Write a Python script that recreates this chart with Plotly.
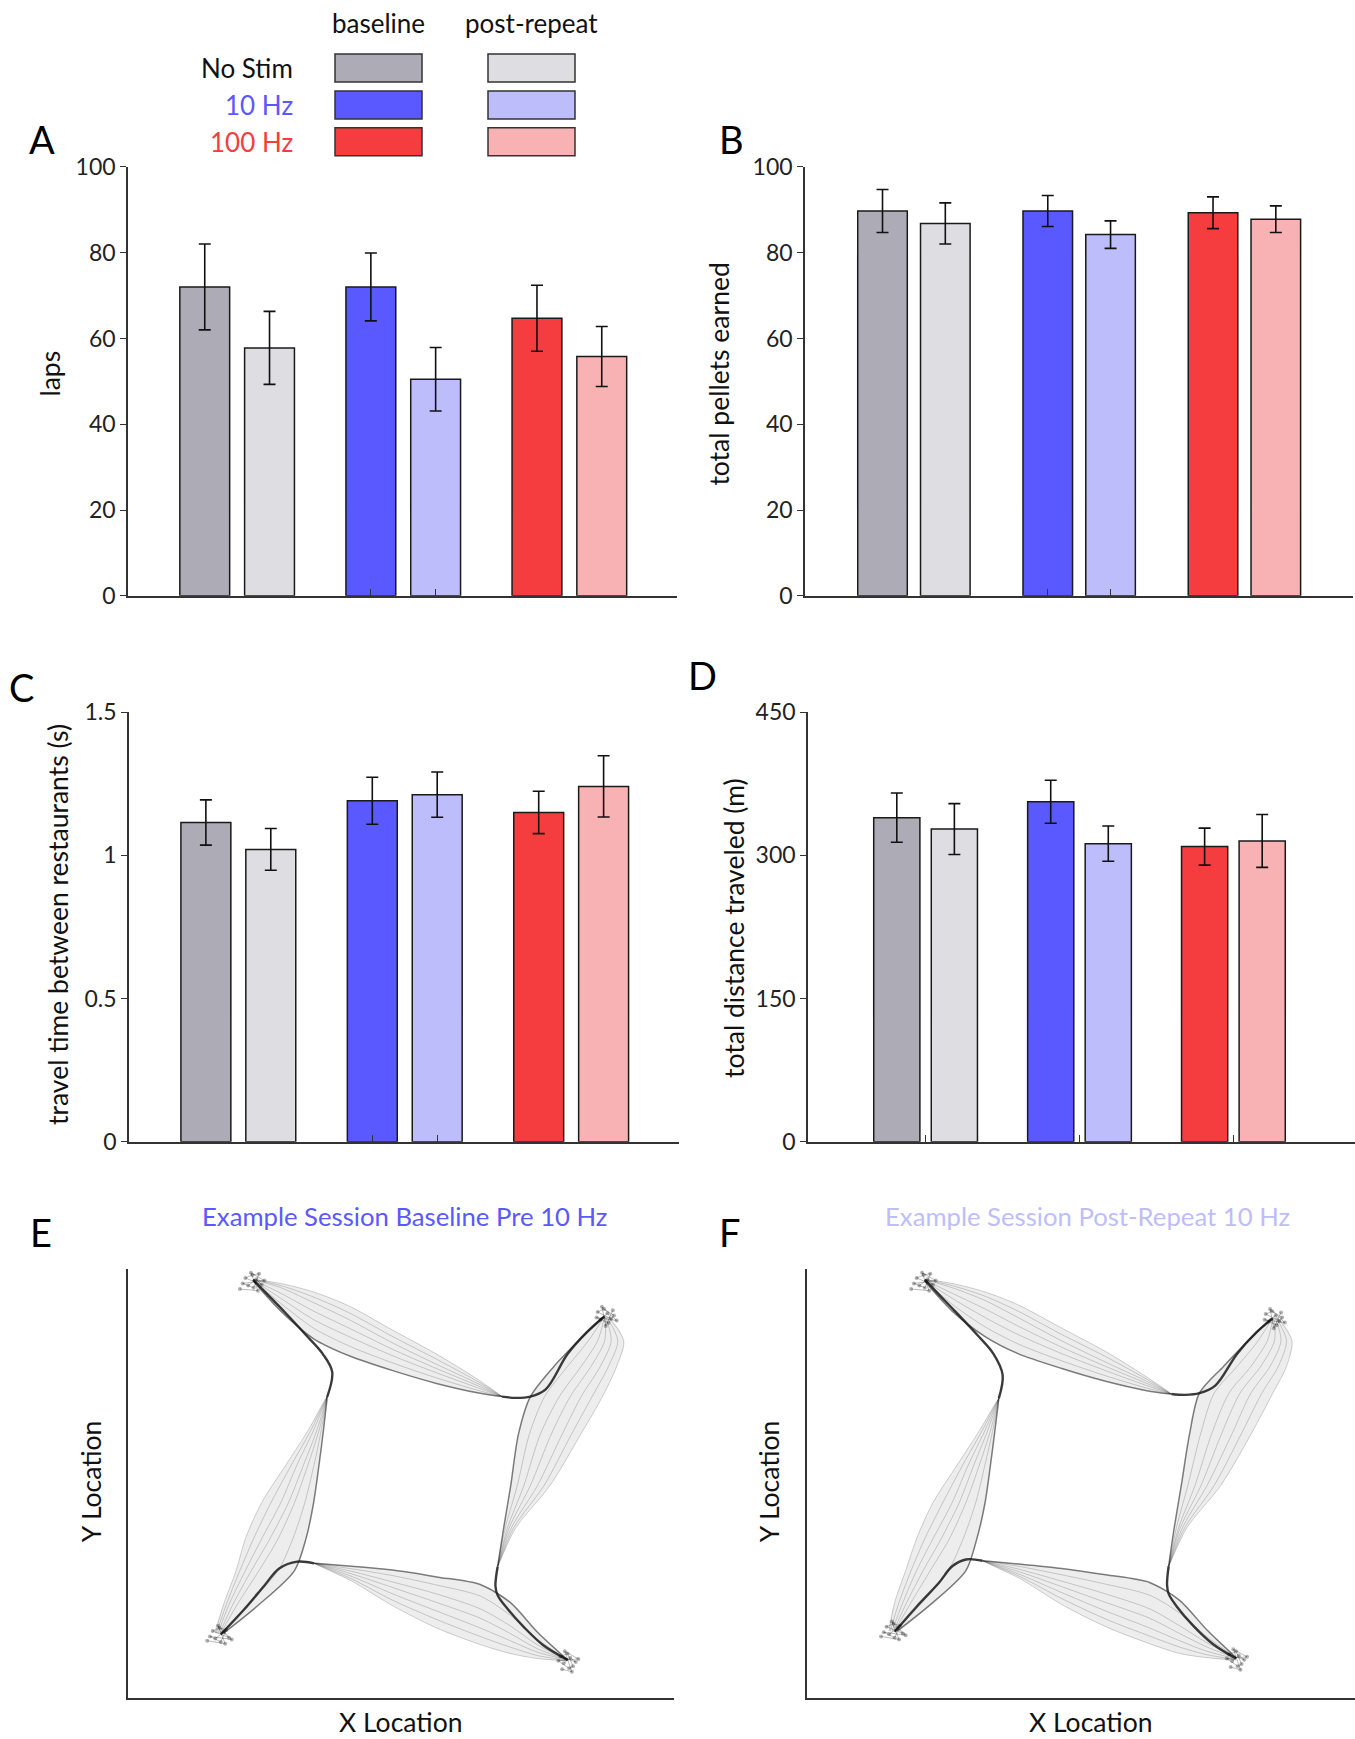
import plotly.graph_objects as go

# ---------------- data ----------------
groups = ["No Stim", "10 Hz", "100 Hz"]
conditions = ["baseline", "post-repeat"]

# order: NoStim base, NoStim post, 10Hz base, 10Hz post, 100Hz base, 100Hz post
laps_mean = [72.0, 57.8, 72.0, 50.5, 64.7, 55.8]
laps_err = [10.0, 8.5, 7.9, 7.4, 7.7, 7.0]
pellets_mean = [89.7, 86.8, 89.7, 84.2, 89.3, 87.8]
pellets_err = [5.0, 4.8, 3.6, 3.2, 3.7, 3.1]
travel_mean = [1.115, 1.021, 1.191, 1.212, 1.150, 1.241]
travel_err = [0.079, 0.073, 0.082, 0.079, 0.074, 0.107]
distance_mean = [339.5, 327.6, 356.2, 312.3, 309.2, 315.1]
distance_err = [25.8, 26.6, 22.5, 18.5, 19.4, 27.7]

laps_ticks = [0, 20, 40, 60, 80, 100]
pellets_ticks = [0, 20, 40, 60, 80, 100]
travel_ticks = [0, 0.5, 1, 1.5]
travel_ticklabels = ["0", "0.5", "1", "1.5"]
distance_ticks = [0, 150, 300, 450]

# ---- example session trajectories (normalised 0-100 arena coords) ----
# panel E (baseline pre 10 Hz)
E_left_y = [71.0, 63.0, 55.0, 46.0, 37.5, 30.0, 22.0, 15.3]
E_left_x = [[36.5, 35.8, 35.0, 34.0, 32.6, 30.5, 24.0, 17.5],
            [36.5, 35.4, 34.1, 32.4, 30.2, 27.5, 22.0, 17.2],
            [36.5, 35.0, 33.0, 30.5, 27.5, 24.0, 20.0, 17.0],
            [36.5, 34.6, 32.2, 29.4, 26.0, 22.6, 19.2, 16.8],
            [36.5, 34.0, 31.0, 28.0, 24.5, 21.5, 18.5, 16.5],
            [36.5, 33.5, 30.0, 26.2, 23.0, 20.5, 18.0, 16.2],
            [36.5, 33.0, 29.0, 24.5, 21.5, 19.8, 17.5, 16.0]]
E_bottom_x = [34.1, 41.0, 48.5, 56.5, 64.5, 70.0, 75.0, 80.5]
E_bottom_y = [[31.7, 31.0, 30.1, 28.5, 26.7, 22.5, 15.5, 9.0],
              [31.7, 30.4, 28.8, 26.6, 24.0, 19.5, 13.8, 9.0],
              [31.7, 29.8, 27.3, 24.5, 21.0, 17.0, 12.5, 9.0],
              [31.7, 29.2, 26.0, 22.5, 18.8, 15.2, 11.6, 9.0],
              [31.7, 28.6, 24.5, 20.5, 16.5, 13.5, 10.8, 9.0],
              [31.7, 28.0, 23.0, 18.5, 14.5, 12.0, 10.0, 8.9],
              [31.7, 27.5, 21.7, 16.5, 12.6, 10.5, 9.3, 8.8]]
E_right_y = [30.9, 40.0, 50.0, 62.0, 70.9, 78.0, 84.0, 89.6]
E_right_x = [[67.7, 68.8, 70.1, 71.5, 73.7, 78.0, 82.5, 87.0],
             [67.7, 69.1, 71.3, 73.5, 76.3, 80.5, 84.3, 87.2],
             [67.7, 69.5, 72.5, 75.5, 79.0, 83.0, 86.0, 87.3],
             [67.7, 69.8, 73.7, 77.5, 81.0, 84.8, 87.3, 87.4],
             [67.7, 70.2, 75.0, 79.5, 83.0, 86.5, 88.5, 87.5],
             [67.7, 70.6, 76.2, 81.2, 85.0, 88.0, 89.7, 87.7],
             [67.7, 71.0, 77.3, 82.9, 86.9, 89.5, 90.8, 88.0]]
E_top_x = [68.5, 64.0, 56.5, 48.5, 40.5, 34.0, 28.0, 23.0]
E_top_y = [[70.9, 71.8, 74.0, 77.0, 80.5, 84.5, 91.0, 98.0],
           [70.9, 72.4, 75.3, 78.8, 82.8, 87.0, 92.8, 98.1],
           [70.9, 73.0, 76.5, 80.5, 85.0, 89.0, 94.0, 98.2],
           [70.9, 73.5, 77.5, 82.0, 87.0, 91.0, 95.2, 98.3],
           [70.9, 74.0, 78.5, 83.5, 89.0, 93.0, 96.5, 98.4],
           [70.9, 74.5, 79.7, 85.0, 90.6, 94.3, 97.0, 98.4],
           [70.9, 75.0, 80.9, 86.5, 92.2, 95.5, 97.5, 98.4]]
E_return_x = [[22.9, 25.5, 28.6, 32.5, 35.7, 37.4, 36.5],
              [17.0, 21.3, 25.0, 27.7, 31.0, 34.1],
              [80.5, 76.0, 72.5, 69.5, 67.7, 67.3, 67.7],
              [87.3, 84.0, 80.5, 76.5, 73.7, 71.0, 68.5]]
E_return_y = [[98.4, 95.0, 90.9, 85.5, 80.9, 76.7, 70.9],
              [15.0, 20.9, 26.5, 30.5, 32.1, 31.7],
              [9.0, 12.5, 16.7, 21.0, 24.2, 26.3, 30.9],
              [89.8, 86.0, 80.9, 72.6, 70.9, 70.6, 70.9]]
E_site_x = [[22.0, 23.5, 24.5, 21.5, 22.8, 24.0, 23.0, 21.0, 25.0, 22.5, 23.8, 20.5],
            [86.5, 87.8, 88.5, 86.0, 87.2, 89.0, 88.0, 85.8, 89.5, 86.8, 87.5, 88.8],
            [16.0, 17.5, 18.5, 15.5, 16.8, 18.0, 17.0, 15.0, 19.0, 16.5, 17.8, 14.5],
            [79.8, 81.0, 82.0, 79.2, 80.5, 81.5, 80.8, 78.8, 82.5, 80.0, 81.3, 79.5]]
E_site_y = [[97.0, 98.5, 97.2, 98.8, 99.5, 99.8, 96.5, 97.5, 98.2, 100.0, 95.8, 96.2],
            [89.0, 90.5, 89.2, 90.8, 91.5, 90.0, 88.2, 89.5, 88.8, 92.0, 87.5, 91.2],
            [14.0, 15.5, 14.2, 15.8, 16.5, 16.0, 13.2, 14.5, 13.8, 17.0, 12.8, 13.5],
            [8.2, 9.5, 8.5, 9.8, 10.5, 7.5, 7.0, 8.8, 9.2, 11.0, 6.2, 6.8]]

# panel F (post-repeat 10 Hz)
F_left_y = [70.5, 63.0, 55.0, 46.0, 37.5, 30.0, 22.5, 15.8]
F_left_x = [[35.0, 34.3, 33.5, 32.5, 31.0, 29.0, 23.0, 16.5],
            [35.0, 33.9, 32.5, 30.8, 28.5, 25.8, 21.0, 16.2],
            [35.0, 33.5, 31.5, 29.0, 26.0, 22.5, 19.0, 16.0],
            [35.0, 33.0, 30.5, 27.8, 24.5, 21.2, 18.2, 15.8],
            [35.0, 32.5, 29.5, 26.5, 23.0, 20.0, 17.5, 15.5],
            [35.0, 32.0, 28.5, 24.8, 21.5, 19.0, 16.8, 15.2],
            [35.0, 31.5, 27.5, 23.0, 20.0, 18.0, 16.0, 15.0]]
F_bottom_x = [32.0, 39.0, 46.5, 54.5, 62.5, 68.0, 73.0, 78.3]
F_bottom_y = [[32.3, 31.5, 30.5, 29.0, 27.2, 23.0, 16.0, 9.5],
              [32.3, 30.9, 29.0, 26.8, 24.2, 20.0, 14.4, 9.5],
              [32.3, 30.2, 27.5, 24.5, 21.0, 17.0, 13.0, 9.5],
              [32.3, 29.6, 26.2, 22.5, 18.8, 15.2, 12.0, 9.4],
              [32.3, 29.0, 24.8, 20.5, 16.5, 13.5, 11.0, 9.3],
              [32.3, 28.5, 23.4, 18.6, 14.6, 12.0, 10.2, 9.1],
              [32.3, 28.0, 22.0, 16.8, 12.8, 10.5, 9.5, 9.0]]
F_right_y = [31.0, 40.0, 50.0, 62.0, 71.7, 78.0, 84.0, 89.3]
F_right_x = [[66.0, 67.0, 68.3, 69.8, 71.6, 76.0, 80.5, 84.7],
             [66.0, 67.4, 69.5, 71.8, 74.3, 78.5, 82.3, 84.9],
             [66.0, 67.8, 70.8, 73.8, 77.0, 81.0, 84.0, 85.0],
             [66.0, 68.1, 71.9, 75.6, 79.0, 82.8, 85.3, 85.2],
             [66.0, 68.5, 73.0, 77.5, 81.0, 84.5, 86.5, 85.5],
             [66.0, 68.9, 74.3, 79.2, 83.0, 86.0, 87.5, 85.7],
             [66.0, 69.3, 75.5, 81.0, 85.0, 87.5, 88.5, 86.0]]
F_top_x = [66.5, 62.0, 54.5, 46.5, 38.5, 32.5, 26.5, 21.5]
F_top_y = [[71.5, 72.3, 74.5, 77.5, 81.0, 85.0, 91.0, 98.0],
           [71.5, 72.9, 75.8, 79.3, 83.3, 87.3, 92.6, 98.1],
           [71.5, 73.5, 77.0, 81.0, 85.5, 89.5, 94.0, 98.2],
           [71.5, 74.0, 78.0, 82.5, 87.5, 91.5, 95.2, 98.3],
           [71.5, 74.5, 79.0, 84.0, 89.5, 93.5, 96.5, 98.4],
           [71.5, 75.0, 80.3, 85.5, 91.0, 94.5, 97.0, 98.4],
           [71.5, 75.5, 81.5, 87.0, 92.5, 95.5, 97.5, 98.4]]
F_return_x = [[21.5, 24.0, 27.0, 31.0, 34.0, 35.7, 35.0],
              [16.0, 20.0, 24.0, 26.5, 29.0, 32.0],
              [78.3, 74.0, 70.5, 67.5, 66.0, 65.7, 66.0],
              [85.0, 82.0, 78.5, 74.5, 71.6, 69.0, 66.5]]
F_return_y = [[98.4, 95.0, 91.0, 85.5, 81.0, 76.0, 70.5],
              [15.6, 21.5, 27.0, 31.0, 32.6, 32.3],
              [9.3, 12.8, 17.0, 21.5, 24.5, 26.7, 31.0],
              [89.3, 86.0, 81.0, 73.5, 71.7, 71.3, 71.5]]
F_site_x = [[20.5, 22.0, 23.0, 20.0, 21.3, 22.5, 21.5, 19.5, 23.5, 21.0, 22.3, 19.0],
            [84.2, 85.5, 86.2, 83.7, 84.9, 86.7, 85.7, 83.5, 87.2, 84.5, 85.2, 86.5],
            [15.0, 16.5, 17.5, 14.5, 15.8, 17.0, 16.0, 14.0, 18.0, 15.5, 16.8, 13.5],
            [77.6, 78.8, 79.8, 77.0, 78.3, 79.3, 78.6, 76.6, 80.3, 77.8, 79.1, 77.3]]
F_site_y = [[97.0, 98.5, 97.2, 98.8, 99.5, 99.8, 96.5, 97.5, 98.2, 100.0, 95.8, 96.2],
            [88.5, 90.0, 88.7, 90.3, 91.0, 89.5, 87.7, 89.0, 88.3, 91.5, 87.0, 90.7],
            [15.0, 16.5, 15.2, 16.8, 17.5, 17.0, 14.2, 15.5, 14.8, 18.0, 13.8, 14.5],
            [8.7, 10.0, 9.0, 10.3, 11.0, 8.0, 7.5, 9.3, 9.7, 11.5, 6.7, 7.3]]

# ---------------- styling ----------------
W, H = 1355, 1739
FONT = "Lato, Open Sans, sans-serif"
TXT = "#111111"
AX = "#333333"
bar_colors = ["#ADABB5", "#DEDDE2", "#5959FF", "#BDBDFC", "#F53D40", "#F9B2B3"]
group_text_colors = ["#111111", "#5959FF", "#F53D40"]

# vertical calibration of the rendered page
VOFF, VSCALE = 15.0, 0.985


def fx(p):
    return p / W


def fy(p):
    return 1 - ((p - VOFF) / VSCALE) / H


fig = go.Figure()
layout = dict(width=W, height=H, margin=dict(l=0, r=0, t=0, b=0, pad=0),
              paper_bgcolor="white", plot_bgcolor="white", showlegend=False,
              font=dict(family=FONT, color=TXT), barmode="overlay")

panels = [
    dict(n="", xpx=(128, 677), ypx=(167, 596.5), xr=(0.343, 3.648), off=0.195,
         m=laps_mean, e=laps_err, ymax=100, tv=laps_ticks, tt=[str(t) for t in laps_ticks], xt="pair"),
    dict(n="2", xpx=(805, 1353), ypx=(167, 596.5), xr=(0.341, 3.657), off=0.19,
         m=pellets_mean, e=pellets_err, ymax=100, tv=pellets_ticks, tt=[str(t) for t in pellets_ticks], xt="pair"),
    dict(n="3", xpx=(129, 679), ypx=(713, 1143), xr=(0.343, 3.648), off=0.195,
         m=travel_mean, e=travel_err, ymax=1.5, tv=travel_ticks, tt=travel_ticklabels, xt="pair"),
    dict(n="4", xpx=(808, 1355), ypx=(713, 1143), xr=(0.236, 3.79), off=0.187,
         m=distance_mean, e=distance_err, ymax=450, tv=distance_ticks, tt=[str(t) for t in distance_ticks], xt="group"),
]

for p in panels:
    xa = "x" + p["n"]
    ya = "y" + p["n"]
    for i in range(6):
        g = i // 2
        c = i % 2
        pos = (g + 1) + (p["off"] if c == 1 else -p["off"])
        fig.add_trace(go.Bar(
            x=[pos], y=[p["m"][i]], width=0.30,
            marker=dict(color=bar_colors[i], line=dict(color="#1a1a1a", width=1.5)),
            error_y=dict(type="data", array=[p["e"][i]], color="#111111", thickness=1.6, width=6),
            xaxis=xa, yaxis=ya, hoverinfo="skip"))
    xtv = [2 - p["off"], 2 + p["off"]] if p["xt"] == "pair" else [1, 2, 3]
    layout["xaxis" + p["n"]] = dict(
        domain=[fx(p["xpx"][0]), fx(p["xpx"][1])], range=list(p["xr"]), anchor=ya,
        showgrid=False, zeroline=False, showline=True, linecolor=AX, linewidth=1.5,
        ticks="inside", ticklen=7, tickwidth=1.2, tickcolor=AX, tickvals=xtv,
        showticklabels=False, fixedrange=True)
    layout["yaxis" + p["n"]] = dict(
        domain=[fy(p["ypx"][1]), fy(p["ypx"][0])], range=[0, p["ymax"]], anchor=xa,
        showgrid=False, zeroline=False, showline=True, linecolor=AX, linewidth=1.5,
        ticks="outside", ticklen=6, tickwidth=1.2, tickcolor=AX,
        tickvals=p["tv"], ticktext=p["tt"], tickfont=dict(size=23, color="#222222"),
        fixedrange=True)

# ---------------- trajectory panels ----------------
traj = [
    dict(n="5", xpx=(128, 674),
         bands=[([E_left_x[k] for k in range(7)], [E_left_y] * 7),
                ([E_bottom_x] * 7, [E_bottom_y[k] for k in range(7)]),
                ([E_right_x[k] for k in range(7)], [E_right_y] * 7),
                ([E_top_x] * 7, [E_top_y[k] for k in range(7)])],
         ret=(E_return_x, E_return_y), site=(E_site_x, E_site_y)),
    dict(n="6", xpx=(807, 1355),
         bands=[([F_left_x[k] for k in range(7)], [F_left_y] * 7),
                ([F_bottom_x] * 7, [F_bottom_y[k] for k in range(7)]),
                ([F_right_x[k] for k in range(7)], [F_right_y] * 7),
                ([F_top_x] * 7, [F_top_y[k] for k in range(7)])],
         ret=(F_return_x, F_return_y), site=(F_site_x, F_site_y)),
]
for t in traj:
    xa = "x" + t["n"]
    ya = "y" + t["n"]
    for bx, by in t["bands"]:
        px_ = list(bx[0]) + list(bx[-1])[::-1]
        py_ = list(by[0]) + list(by[-1])[::-1]
        fig.add_trace(go.Scatter(x=px_, y=py_, mode="lines", fill="toself",
                                 fillcolor="rgba(0,0,0,0.07)", line=dict(width=0, shape="spline"),
                                 xaxis=xa, yaxis=ya, hoverinfo="skip"))
        for k, (lx, ly) in enumerate(zip(bx, by)):
            col = "rgba(0,0,0,0.5)" if k == 0 else "rgba(0,0,0,0.2)"
            wid = 1.5 if k == 0 else 0.9
            fig.add_trace(go.Scatter(x=lx, y=ly, mode="lines",
                                     line=dict(color=col, width=wid, shape="spline", smoothing=0.8),
                                     xaxis=xa, yaxis=ya, hoverinfo="skip"))
    for rx, ry in zip(*t["ret"]):
        fig.add_trace(go.Scatter(x=rx, y=ry, mode="lines",
                                 line=dict(color="rgba(25,25,25,0.85)", width=2.4, shape="spline"),
                                 xaxis=xa, yaxis=ya, hoverinfo="skip"))
    for sx, sy in zip(*t["site"]):
        fig.add_trace(go.Scatter(x=sx, y=sy, mode="lines",
                                 line=dict(color="rgba(0,0,0,0.3)", width=0.9),
                                 xaxis=xa, yaxis=ya, hoverinfo="skip"))
        fig.add_trace(go.Scatter(x=sx, y=sy, mode="markers",
                                 marker=dict(color="rgba(0,0,0,0.3)", size=4, line=dict(width=0)),
                                 xaxis=xa, yaxis=ya, hoverinfo="skip"))
    layout["xaxis" + t["n"]] = dict(
        domain=[fx(t["xpx"][0]), fx(t["xpx"][1])], range=[0, 100], anchor=ya,
        showgrid=False, zeroline=False, showline=True, linecolor=AX, linewidth=1.5,
        showticklabels=False, ticks="", fixedrange=True)
    layout["yaxis" + t["n"]] = dict(
        domain=[fy(1700), fy(1270)], range=[0, 101], anchor=xa,
        showgrid=False, zeroline=False, showline=True, linecolor=AX, linewidth=1.5,
        showticklabels=False, ticks="", fixedrange=True)

# ---------------- annotations ----------------
ann = []


def text(x, y, s, size, color=TXT, angle=0, xanchor="center", yanchor="middle"):
    ann.append(dict(x=fx(x), y=fy(y), xref="paper", yref="paper", text=s, showarrow=False,
                    textangle=angle, xanchor=xanchor, yanchor=yanchor,
                    font=dict(size=size, color=color, family=FONT)))


for s, x, y in [("A", 42, 139), ("B", 731, 139), ("C", 21, 688), ("D", 702, 676),
                ("E", 41, 1233), ("F", 730, 1233)]:
    text(x, y, s, 38, "#000000")

text(50, 374, "laps", 26.5, angle=-90)
text(719, 375, "total pellets earned", 26.5, angle=-90)
text(58, 926, "travel time between restaurants (s)", 26.5, angle=-90)
text(734, 929, "total distance traveled (m)", 26.5, angle=-90)
text(91, 1483, "Y Location", 26.5, angle=-90)
text(769, 1483, "Y Location", 26.5, angle=-90)
text(400, 1724, "X Location", 26.5)
text(1090, 1724, "X Location", 26.5)

text(404, 1217, "Example Session Baseline Pre 10 Hz", 25.7, "#5959FF")
text(1087, 1217, "Example Session Post-Repeat 10 Hz", 25.7, "#BDBDFC")

col_x = [(335, 422), (488, 575)]
row_y = [(54, 82), (91, 119), (128, 156)]
shapes = []
for ci, cond in enumerate(conditions):
    text((col_x[ci][0] + col_x[ci][1]) / 2, 23, cond, 26, "#111111")
for gi, grp in enumerate(groups):
    text(295, (row_y[gi][0] + row_y[gi][1]) / 2, grp, 26, group_text_colors[gi], xanchor="right")
    for ci in range(2):
        shapes.append(dict(type="rect", xref="paper", yref="paper",
                           x0=fx(col_x[ci][0]), x1=fx(col_x[ci][1]),
                           y0=fy(row_y[gi][1]), y1=fy(row_y[gi][0]),
                           fillcolor=bar_colors[gi * 2 + ci], line=dict(color="#333333", width=1.5)))

layout["annotations"] = ann
layout["shapes"] = shapes
fig.update_layout(**layout)
fig.write_html("out.html")
